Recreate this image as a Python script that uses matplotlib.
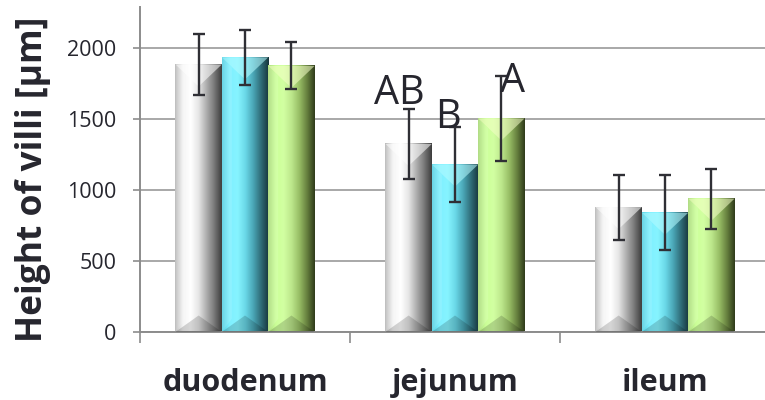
import numpy as np
import matplotlib
matplotlib.use("Agg")
import matplotlib.pyplot as plt
from matplotlib.colors import LinearSegmentedColormap
from matplotlib.patches import Polygon

# Villus height per intestinal segment, three groups
segments = ["duodenum", "jejunum", "ileum"]
group_white = [1885, 1325, 880]
group_cyan = [1935, 1180, 840]
group_green = [1875, 1505, 940]
err_white = [218, 247, 229]
err_cyan = [195, 266, 265]
err_green = [165, 298, 212]
letters_jejunum = ["AB", "B", "A"]

series = [group_white, group_cyan, group_green]
errors = [err_white, err_cyan, err_green]

# horizontal shading stops per series (left edge -> right edge)
shades = [
    ["#b8b8b8", "#f4f4f4", "#ffffff", "#e6e6e6", "#b0b0b0", "#7a7a7a", "#3c3c3c"],
    ["#55cfe2", "#7ff0ff", "#86f4ff", "#6ad8e8", "#4aa6b6", "#2f6c78", "#17343a"],
    ["#a8d878", "#cbff98", "#d2ffa2", "#bde88c", "#98be66", "#66803e", "#2e3a1a"],
]
top_tint = ["#ffffff", "#b6fbff", "#f4ffc8"]
text_color = "#26262e"

plt.rcParams["font.family"] = ["Open Sans", "DejaVu Sans"]

fig = plt.figure(figsize=(7.65, 4.0), dpi=100)
W, H = 765, 400
ax = fig.add_axes([140 / W, (H - 332) / H, 630 / W, 325 / H])
ax.set_xlim(-0.5, 2.5)
ax.set_ylim(0, 2290)

bw = 0.221
x = np.arange(len(segments))

# data units per pixel, for bevel sizes
px_x = 3.0 / 630
px_y = 2290 / 325
bev_x = 10 * px_x
bev_y = 22 * px_y

for j, (vals, errs) in enumerate(zip(series, errors)):
    cmap = LinearSegmentedColormap.from_list(f"s{j}", shades[j])
    grad = np.linspace(0, 1, 256).reshape(1, -1)
    for i, v in enumerate(vals):
        xc = x[i] + (j - 1) * bw
        l, r = xc - bw / 2, xc + bw / 2
        ax.imshow(grad, cmap=cmap, extent=(l, r, 0, v), aspect="auto",
                  zorder=2, interpolation="bilinear")
        # top and bottom bevels
        ax.add_patch(Polygon([(l, v), (r, v), (xc, v - bev_y)], closed=True,
                             facecolor=top_tint[j], alpha=0.55, lw=0, zorder=3))
        ax.add_patch(Polygon([(l, 0), (r, 0), (xc, bev_y * 0.75)], closed=True,
                             facecolor="#000000", alpha=0.16, lw=0, zorder=3))
        ax.add_patch(Polygon([(l, 0), (l + bev_x, bev_y * 0.6),
                              (l + bev_x, v - bev_y * 0.45), (l, v)], closed=True,
                             facecolor="#ffffff", alpha=0.12, lw=0, zorder=3))
        ax.errorbar(xc, v, yerr=errs[i], fmt="none", ecolor="#2f2f35",
                    elinewidth=1.7, capsize=4.5, capthick=1.7, zorder=5)

# significance letters over the jejunum bars
letter_dx = [-0.046, -0.033, 0.055]
letter_y = [1606, 1437, 1690]
for j, lab in enumerate(letters_jejunum):
    xc = x[1] + (j - 1) * bw + letter_dx[j]
    ax.text(xc, letter_y[j], lab, ha="center", va="baseline", fontsize=28.5,
            color=text_color, zorder=6)

ax.set_yticks([0, 500, 1000, 1500, 2000])
ax.yaxis.grid(True, color="#a8a8a8", lw=1.4, zorder=0)
ax.set_axisbelow(True)
ax.tick_params(axis="y", direction="out", length=5, width=1.2, color="#8c8c8c",
               labelsize=15.5, labelcolor=text_color, pad=12)

ax.set_xticks(x)
ax.set_xticklabels(segments, fontsize=22, fontweight="bold", color=text_color)
ax.tick_params(axis="x", which="major", length=0, pad=26)
ax.set_xticks([-0.5, 0.5, 1.5, 2.5], minor=True)
ax.tick_params(axis="x", which="minor", direction="out", length=8, width=1.2,
               color="#8c8c8c")

for s in ["top", "right"]:
    ax.spines[s].set_visible(False)
for s in ["left", "bottom"]:
    ax.spines[s].set_color("#8c8c8c")
    ax.spines[s].set_linewidth(1.4)

# y-axis title, baseline placed along the left margin
fig.text(42 / W, (H - 342) / H, "Height of villi [µm]", rotation=90,
         rotation_mode="anchor", ha="left", va="baseline", fontsize=25.5,
         fontweight="bold", color=text_color)

fig.savefig("out.png", dpi=100)
